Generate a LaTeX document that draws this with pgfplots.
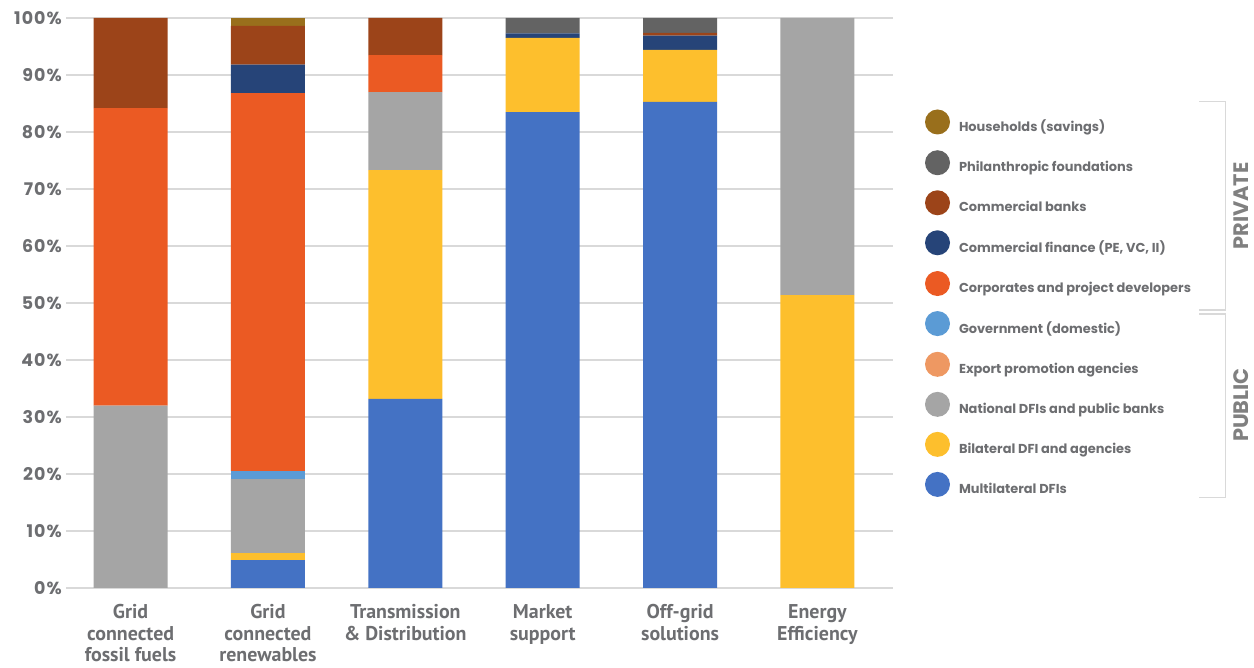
\documentclass[border=0pt]{standalone}
\usepackage{pgfplots}
\pgfplotsset{compat=1.18}
\usepackage{fontspec}
\setmainfont{Poppins}
\newfontfamily\ptsans{PT Sans}
\newfontfamily\popwide{Poppins}[LetterSpace=6]
\definecolor{cHouse}{HTML}{996F1C}
\definecolor{cPhil}{HTML}{636363}
\definecolor{cBank}{HTML}{9C4419}
\definecolor{cCfin}{HTML}{264478}
\definecolor{cCorp}{HTML}{EB5A23}
\definecolor{cGov}{HTML}{5B9BD5}
\definecolor{cExp}{HTML}{EE9862}
\definecolor{cNat}{HTML}{A5A5A5}
\definecolor{cBil}{HTML}{FDBF2D}
\definecolor{cMul}{HTML}{4472C4}
\definecolor{gridc}{HTML}{D9D9D9}
\definecolor{labc}{HTML}{6D6E71}
\definecolor{brc}{HTML}{808080}
\begin{document}
\begin{tikzpicture}
\useasboundingbox (0,0) rectangle (1254bp,668bp);
\begin{axis}[
  at={(66bp,80bp)}, anchor=south west,
  scale only axis, width=827bp, height=570bp,
  ybar stacked, bar width=74bp,
  xmin=-0.47, xmax=5.55, ymin=0, ymax=100,
  axis line style={draw=none},
  major tick length=0pt,
  ymajorgrids, grid style={color=gridc, line width=1.3bp},
  ytick={0,10,...,100},
  yticklabel={\pgfmathprintnumber[assume math mode=true]{\tick}\%},
  yticklabel style={font=\popwide\bfseries\fontsize{17.5}{19}\selectfont, text=labc, inner sep=0pt, anchor=east, xshift=-4bp},
  xtick={0,1,2,3,4,5},
  xticklabels={{Grid\\connected\\fossil fuels},{Grid\\connected\\renewables},{Transmission\\\& Distribution},{Market\\support},{Off-grid\\solutions},{Energy\\Efficiency}},
  xticklabel style={font=\ptsans\bfseries\fontsize{20}{21.5}\selectfont, text=labc, align=center, inner sep=0pt, anchor=north, yshift=-16.5bp},
  reverse legend,
  legend cell align=left,
  legend style={at={(1.0387,0.8395)}, anchor=north west, draw=none, fill=none,
    font=\bfseries\fontsize{13}{15}\selectfont, text=labc,
    row sep=15bp, column sep=7bp, inner sep=0pt, outer sep=0pt},
  every axis plot post/.append style={draw=none,
    legend image code/.code={\fill[##1] (12.5bp,4.6bp) circle (12.5bp);}},
]
\addplot[fill=cMul] coordinates {(0,0) (1,4.9) (2,33.2) (3,83.5) (4,85.3) (5,0)};
\addplot[fill=cBil] coordinates {(0,0) (1,1.2) (2,40.1) (3,13.0) (4,9.1) (5,51.4)};
\addplot[fill=cNat] coordinates {(0,32.0) (1,13.0) (2,13.7) (3,0) (4,0) (5,48.6)};
\addplot[fill=cExp] coordinates {(0,0) (1,0) (2,0) (3,0) (4,0) (5,0)};
\addplot[fill=cGov] coordinates {(0,0) (1,1.4) (2,0) (3,0) (4,0) (5,0)};
\addplot[fill=cCorp] coordinates {(0,52.2) (1,66.3) (2,6.5) (3,0) (4,0) (5,0)};
\addplot[fill=cCfin] coordinates {(0,0) (1,5.0) (2,0) (3,0.8) (4,2.5) (5,0)};
\addplot[fill=cBank] coordinates {(0,15.8) (1,6.8) (2,6.5) (3,0) (4,0.5) (5,0)};
\addplot[fill=cPhil] coordinates {(0,0) (1,0) (2,0) (3,2.7) (4,2.6) (5,0)};
\addplot[fill=cHouse] coordinates {(0,0) (1,1.4) (2,0) (3,0) (4,0) (5,0)};
\legend{Multilateral DFIs, Bilateral DFI and agencies, National DFIs and public banks, Export promotion agencies, Government (domestic), Corporates and project developers, {Commercial finance (PE, VC, II)}, Commercial banks, Philanthropic foundations, Households (savings)}
\end{axis}
\draw[gridc, line width=1.3bp] (1199bp,566.3bp) -- (1225.7bp,566.3bp) -- (1225.7bp,358bp) -- (1199bp,358bp);
\draw[gridc, line width=1.3bp] (1199bp,354bp) -- (1225.7bp,354bp) -- (1225.7bp,170.3bp) -- (1199bp,170.3bp);
\node[rotate=90, font=\bfseries\fontsize{21}{24}\selectfont, text=brc] at (1240.7bp,462bp) {PRIVATE};
\node[rotate=90, font=\bfseries\fontsize{21}{24}\selectfont, text=brc] at (1240.7bp,263bp) {PUBLIC};
\end{tikzpicture}
\end{document}
